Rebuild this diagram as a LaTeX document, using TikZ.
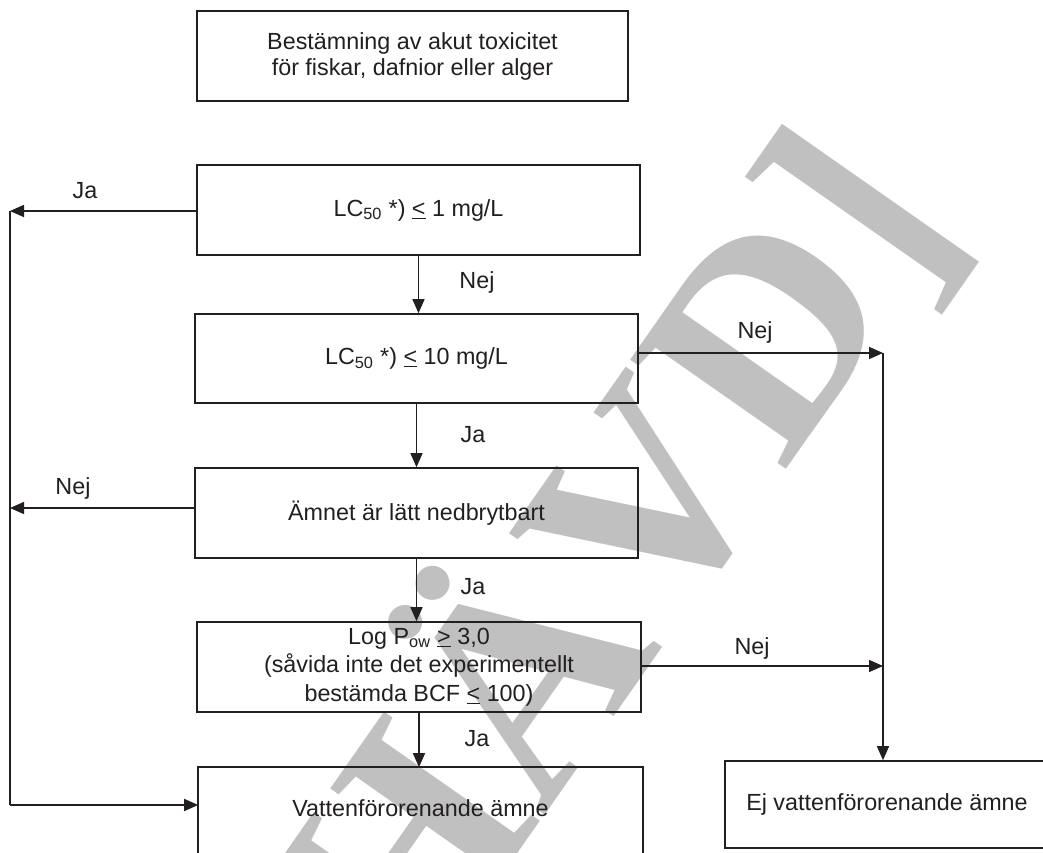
\documentclass[tikz,border=0pt]{standalone}
\usepackage{fontspec}
\setmainfont{Liberation Sans}
\newfontfamily\wmfont{Liberation Serif}
\usetikzlibrary{arrows.meta}
\definecolor{wmgray}{RGB}{192,192,192}
\definecolor{ink}{RGB}{35,31,32}
\begin{document}
\begin{tikzpicture}[x=0.75pt,y=-0.75pt,
  every node/.style={font=\fontsize{17.5}{21}\selectfont, text=ink},
  box/.style={draw=ink, line width=1.2pt, inner sep=0pt, align=center},
  boxline/.style={draw=ink, line width=1.2pt},
  arr/.style={draw=ink, line width=1.1pt, -{Triangle[length=10.5pt,width=9pt]}},
  ln/.style={draw=ink, line width=1.1pt},
  lbl/.style={inner sep=0pt}]
\useasboundingbox (0,0) rectangle (1043,853);
\clip (0,0) rectangle (1043,853);
% watermark
\node[font=\wmfont\bfseries\fontsize{218}{218}\selectfont, text=wmgray, rotate=55, anchor=base east, inner sep=0pt] (wm) at (960,222) {[UPPHÄVD]};
% boxes
\node[box, minimum width=431*0.75pt, minimum height=90*0.75pt, font=\fontsize{17.5}{19.5}\selectfont] (b1) at (412.5,56) {Bestämning av akut toxicitet\\för fiskar, dafnior eller alger};
\node[box, minimum width=443*0.75pt, minimum height=90*0.75pt] (b2) at (418.5,210) {LC\textsubscript{50} *) \underline{<} 1 mg/L};
\node[box, minimum width=443*0.75pt, minimum height=89*0.75pt] (b3) at (416.5,358.5) {LC\textsubscript{50} *) \underline{<} 10 mg/L};
\node[box, minimum width=443*0.75pt, minimum height=90*0.75pt] (b4) at (416.5,513) {Ämnet är lätt nedbrytbart};
\node[box, minimum width=444*0.75pt, minimum height=90*0.75pt, font=\fontsize{17.5}{21.4}\selectfont] (b5) at (419,667) {Log P\textsubscript{ow} \underline{>} 3,0\\(såvida inte det experimentellt\\bestämda BCF \underline{<} 100)};
\node[box, draw=none, minimum width=443*0.75pt, minimum height=80*0.75pt] (b6) at (420.5,808) {Vattenförorenande ämne};
\draw[boxline] ([yshift=-40pt]b6.south west) -- (b6.north west) -- (b6.north east) -- ([yshift=-40pt]b6.south east);
\node[box, minimum width=324*0.75pt, minimum height=87*0.75pt] (b7) at (887,804.5) {Ej vattenförorenande ämne};
% helper coordinates
\coordinate (ltop) at (10,211);
\coordinate (lmid) at (10,508);
\coordinate (lbot) at (10,805);
\coordinate (rtop) at (883,353);
\coordinate (rmid) at (883,666);
% left branch
\draw[arr] (b2.west |- ltop) -- (ltop);
\draw[arr] (b4.west |- lmid) -- (lmid);
\draw[ln] (ltop) -- (lbot);
\draw[arr] (lbot) -- (lbot -| b6.west);
% main column
\draw[arr] (b2.south) -- (b2.south |- b3.north);
\draw[arr] (b3.south) -- (b3.south |- b4.north);
\draw[arr] (b4.south) -- (b4.south |- b5.north);
\draw[arr] (b5.south) -- (b5.south |- b6.north);
% right branch
\draw[arr] (b3.east |- rtop) -- (rtop);
\draw[arr] (b5.east |- rmid) -- (rmid);
\draw[arr] (rtop) -- (rtop |- b7.north);
% labels
\node[lbl] (l1) at (85,191) {Ja};
\node[lbl] (l2) at (73,488) {Nej};
\node[lbl] (l3) at (477,282) {Nej};
\node[lbl] (l4) at (473,435) {Ja};
\node[lbl] (l5) at (473,587) {Ja};
\node[lbl] (l6) at (477,739) {Ja};
\node[lbl] (l7) at (755,332) {Nej};
\node[lbl] (l8) at (752,648) {Nej};
\end{tikzpicture}
\end{document}
